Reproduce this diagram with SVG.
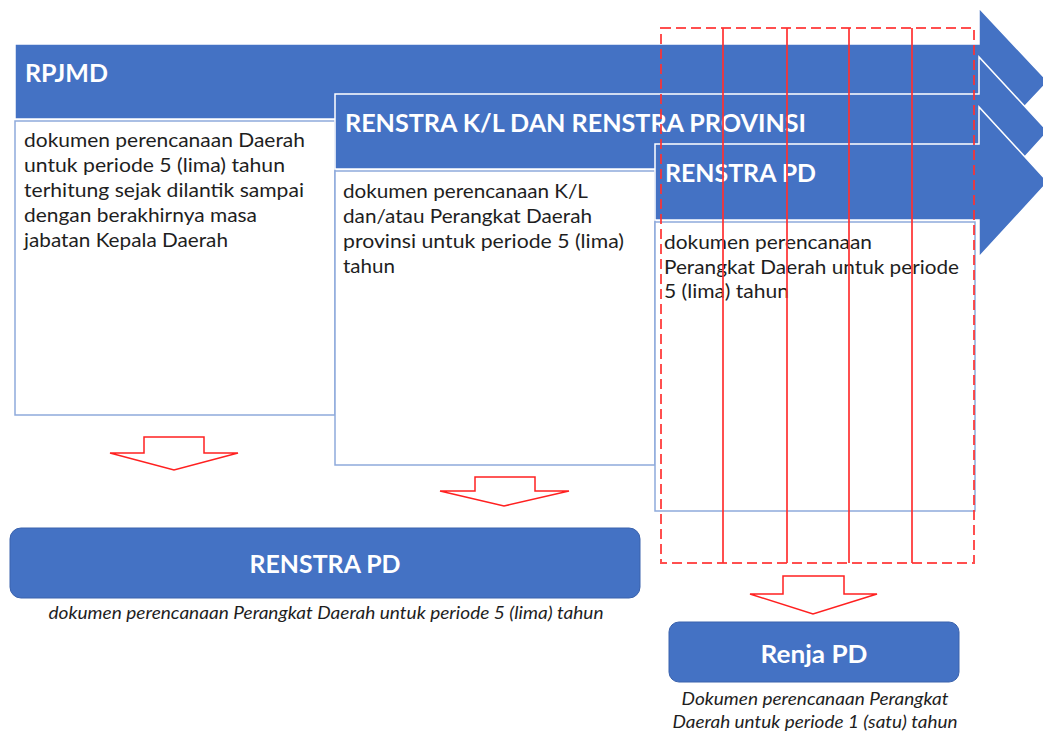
<svg xmlns="http://www.w3.org/2000/svg" width="1043" height="731" viewBox="0 0 1043 731">
<style>
.arrow{fill:#4472c4;stroke:#ffffff;stroke-width:1.5}
.box{fill:#ffffff;stroke:#8eaadb;stroke-width:1.5}
.title{font-family:Lato,"Liberation Sans",sans-serif;font-weight:bold;font-size:25px;fill:#ffffff}
.body{font-family:Lato,"Liberation Sans",sans-serif;font-size:19px;fill:#1e1e1e}
.ital{font-family:Lato,"Liberation Sans",sans-serif;font-style:italic;font-size:17px;fill:#1e1e1e}
.rbox{fill:#4472c4;stroke:#3a62ad;stroke-width:1}
.down{fill:#ffffff;stroke:#ff2020;stroke-width:1.5}
.rl{stroke:#ff3030;stroke-width:2;fill:none;stroke-opacity:0.85}
</style>
<rect width="1043" height="731" fill="#ffffff"/>
<g id="rpjmd">
<path class="arrow" d="M15,44 H979 V8 L1048,81.5 L979,155 V119 H15 Z"/>
<text class="title" x="25" y="82" textLength="83" lengthAdjust="spacingAndGlyphs">RPJMD</text>
<rect class="box" x="15" y="121" width="320" height="294"/>
<text class="body" x="24" y="147" textLength="281" lengthAdjust="spacingAndGlyphs">dokumen perencanaan Daerah</text>
<text class="body" x="24" y="172" textLength="261" lengthAdjust="spacingAndGlyphs">untuk periode 5 (lima) tahun</text>
<text class="body" x="24" y="197" textLength="280" lengthAdjust="spacingAndGlyphs">terhitung sejak dilantik sampai</text>
<text class="body" x="24" y="222" textLength="233" lengthAdjust="spacingAndGlyphs">dengan berakhirnya masa</text>
<text class="body" x="24" y="247" textLength="204" lengthAdjust="spacingAndGlyphs">jabatan Kepala Daerah</text>
</g>
<g id="renstra-kl">
<path class="arrow" d="M335,94 H979 V57 L1048,131.5 L979,207 V169 H335 Z"/>
<text class="title" x="345" y="132" textLength="461" lengthAdjust="spacingAndGlyphs">RENSTRA K/L DAN RENSTRA PROVINSI</text>
<rect class="box" x="335" y="171" width="320" height="294"/>
<text class="body" x="343" y="198" textLength="245" lengthAdjust="spacingAndGlyphs">dokumen perencanaan K/L</text>
<text class="body" x="343" y="223" textLength="249" lengthAdjust="spacingAndGlyphs">dan/atau Perangkat Daerah</text>
<text class="body" x="343" y="248" textLength="281" lengthAdjust="spacingAndGlyphs">provinsi untuk periode 5 (lima)</text>
<text class="body" x="343" y="273" textLength="52" lengthAdjust="spacingAndGlyphs">tahun</text>
</g>
<g id="renstra-pd-arrow">
<path class="arrow" d="M655,144 H979 V107 L1048,182 L979,257 V220 H655 Z"/>
<text class="title" x="665" y="182" textLength="151" lengthAdjust="spacingAndGlyphs">RENSTRA PD</text>
<rect class="box" x="655" y="222" width="320" height="289"/>
<text class="body" x="664" y="249" textLength="208" lengthAdjust="spacingAndGlyphs">dokumen perencanaan</text>
<text class="body" x="664" y="274" textLength="295" lengthAdjust="spacingAndGlyphs">Perangkat Daerah untuk periode</text>
<text class="body" x="664" y="298" textLength="125" lengthAdjust="spacingAndGlyphs">5 (lima) tahun</text>
</g>
<g id="period-grid">
<rect class="rl" x="661" y="28" width="313" height="535" stroke-dasharray="10 5"/>
<line class="rl" x1="723" y1="28" x2="723" y2="563"/>
<line class="rl" x1="787" y1="28" x2="787" y2="563"/>
<line class="rl" x1="849" y1="28" x2="849" y2="563"/>
<line class="rl" x1="912" y1="28" x2="912" y2="563"/>
</g>
<g id="connectors">
<polygon class="down" points="144,437 204,437 204,453 238,453 174,470 110,453 144,453"/>
<polygon class="down" points="475,477 535,477 535,491 569,491 504,506 440,491 475,491"/>
<polygon class="down" points="783,576 844,576 844,594 877,594 813,614 750,594 783,594"/>
</g>
<g id="renstra-pd">
<rect class="rbox" x="10" y="528" width="630" height="70" rx="11"/>
<text class="title" x="325" y="573" text-anchor="middle" textLength="151" lengthAdjust="spacingAndGlyphs">RENSTRA PD</text>
<text class="ital" x="326" y="619" text-anchor="middle" textLength="555" lengthAdjust="spacingAndGlyphs">dokumen perencanaan Perangkat Daerah untuk periode 5 (lima) tahun</text>
</g>
<g id="renja-pd">
<rect class="rbox" x="669" y="622" width="290" height="60" rx="10"/>
<text class="title" x="814" y="663" text-anchor="middle" textLength="107" lengthAdjust="spacingAndGlyphs">Renja PD</text>
<text class="ital" x="815" y="705" text-anchor="middle" textLength="267" lengthAdjust="spacingAndGlyphs">Dokumen perencanaan Perangkat</text>
<text class="ital" x="815" y="728" text-anchor="middle" textLength="285" lengthAdjust="spacingAndGlyphs">Daerah untuk periode 1 (satu) tahun</text>
</g>
</svg>
